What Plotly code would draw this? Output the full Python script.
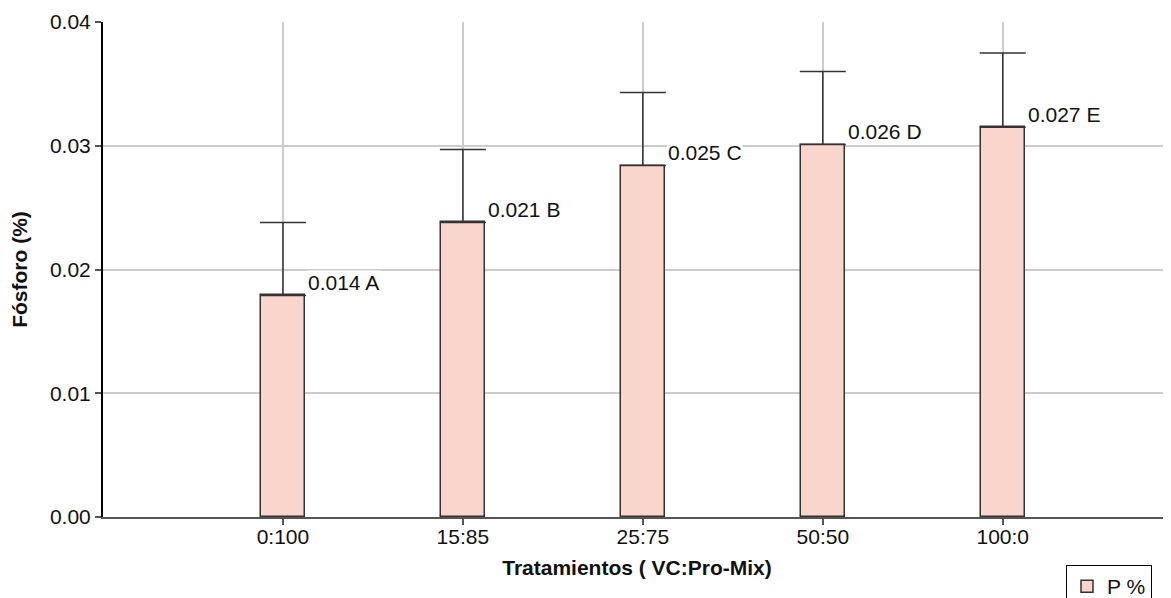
import plotly.graph_objects as go

categories = ["0:100", "15:85", "25:75", "50:50", "100:0"]
p_values = [0.0179, 0.0238, 0.0284, 0.0301, 0.0315]
p_errors = [0.0059, 0.0059, 0.0059, 0.0059, 0.0060]
labels = ["0.014 A", "0.021 B", "0.025 C", "0.026 D", "0.027 E"]
y_ticks = [0.0, 0.01, 0.02, 0.03, 0.04]
y_ticktext = ["0.00", "0.01", "0.02", "0.03", "0.04"]

FONT = "Liberation Sans, Arial, sans-serif"
# page body has an 8px margin, so the figure is sized to fill the rest of the window
W, H = 1163, 590

fig = go.Figure()
fig.add_trace(go.Bar(
    x=categories, y=p_values, name="P %",
    width=0.245,
    marker=dict(color="#FAD5CC", line=dict(color="#333333", width=1.5)),
    error_y=dict(type="data", array=p_errors, arrayminus=[0]*len(p_errors),
                 symmetric=False, color="#333333", thickness=1.5, width=23),
))

for c, v, lab in zip(categories, p_values, labels):
    fig.add_annotation(x=c, y=v, text=lab, showarrow=False,
                       xanchor="left", yanchor="middle", xshift=24, yshift=13,
                       bgcolor="white", borderpad=0,
                       font=dict(family=FONT, size=21, color="#111111"))

fig.update_layout(
    width=W, height=H,
    margin=dict(l=95, r=0, t=14, b=81, autoexpand=False),
    paper_bgcolor="white", plot_bgcolor="white",
    font=dict(family=FONT, size=21, color="#111111"),
    showlegend=True,
    legend=dict(x=1058 / W, y=1 - 557 / H, xref="container", yref="container",
                xanchor="left", yanchor="top",
                bordercolor="#000000", borderwidth=1, bgcolor="white",
                font=dict(family=FONT, size=21, color="#111111")),
    bargap=0,
)
fig.update_xaxes(
    range=[-1, 4.935], showgrid=True, gridcolor="#CCCCCC", gridwidth=1.5,
    showline=True, linecolor="#555555", linewidth=2, automargin=False,
    ticks="outside", ticklen=6, tickcolor="#555555", tickwidth=1.5,
    ticklabelstandoff=-6,
    tickfont=dict(family=FONT, size=21, color="#111111"),
    title=dict(text="<b>Tratamientos ( VC:Pro-Mix)</b>", standoff=13,
               font=dict(family=FONT, size=21, color="#111111")),
)
fig.update_yaxes(
    range=[0, 0.04], tickvals=y_ticks, ticktext=y_ticktext,
    showgrid=True, gridcolor="#CCCCCC", gridwidth=1.5, zeroline=False,
    showline=True, linecolor="#000000", linewidth=2, automargin=False,
    ticks="outside", ticklen=6, tickcolor="#555555", tickwidth=1.5,
    tickfont=dict(family=FONT, size=21, color="#111111"),
    title=dict(text="<b>Fósforo (%)</b>", standoff=24,
               font=dict(family=FONT, size=21, color="#111111")),
)

fig.write_html("out.html")
